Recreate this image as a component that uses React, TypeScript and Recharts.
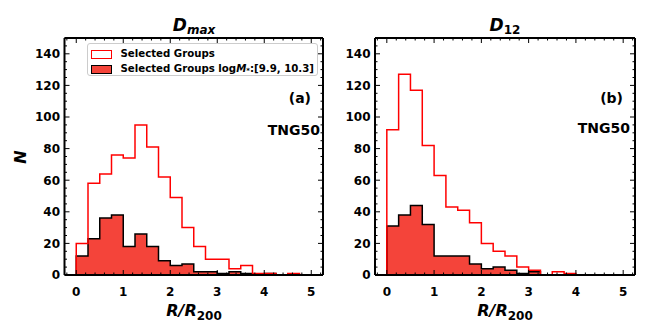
import { ComposedChart, Line, Area, XAxis, YAxis } from 'recharts';

const BIN_WIDTH = 0.25;

// panel (a) D_max
const dmaxAll = [20, 58, 64, 76, 74, 95, 81, 62, 49, 30, 18, 10, 10, 4, 6, 1, 1, 0, 1];
const dmaxSel = [12, 23, 36, 38, 18, 26, 18, 9, 6, 7, 2, 2, 1, 2, 1, 0, 1, 0, 0];

// panel (b) D_12
const d12All = [92, 127, 117, 82, 63, 43, 41, 33, 20, 15, 12, 5, 3, 0, 2, 1];
const d12Sel = [31, 38, 44, 32, 12, 12, 12, 7, 4, 5, 3, 1, 2, 0, 0, 0];

const X_TICKS = Array.from({ length: 28 }, (_, i) => Math.round((i - 1) * 2) / 10); // -0.2 .. 5.2
const Y_TICKS = Array.from({ length: 31 }, (_, i) => i * 5);

const FONT = '"DejaVu Sans", sans-serif';
const FILL = '#f4443a';

function buildRows(all: number[], sel: number[]) {
  const rows = [{ x: 0, all: 0, sel: 0 }];
  all.forEach((v, i) => rows.push({ x: i * BIN_WIDTH, all: v, sel: sel[i] }));
  rows.push({ x: all.length * BIN_WIDTH, all: 0, sel: 0 });
  return rows;
}

const isInt = (v: number) => Math.abs(v - Math.round(v)) < 1e-6;

const BottomTick = (p: any) => {
  const v = p.payload.value;
  const major = isInt(v);
  return (
    <g>
      <line x1={p.x} x2={p.x} y1={p.y} y2={p.y - (major ? 5 : 2.5)} stroke="#000" strokeWidth={1} />
      {major && v >= 0 && v <= 5 && (
        <text x={p.x} y={p.y + 20.5} textAnchor="middle" fontFamily={FONT} fontWeight="bold" fontSize={12} fill="#000">
          {v}
        </text>
      )}
    </g>
  );
};

const TopTick = (p: any) => {
  const major = isInt(p.payload.value);
  return <line x1={p.x} x2={p.x} y1={p.y} y2={p.y + (major ? 5 : 2.5)} stroke="#000" strokeWidth={1} />;
};

const LeftTick = (p: any) => {
  const v = p.payload.value;
  const major = v % 20 === 0;
  return (
    <g>
      <line x1={p.x} x2={p.x + (major ? 5 : 2.5)} y1={p.y} y2={p.y} stroke="#000" strokeWidth={1} />
      {major && v <= 140 && (
        <text x={p.x - 4.5} y={p.y + 4.4} textAnchor="end" fontFamily={FONT} fontWeight="bold" fontSize={12} fill="#000">
          {v}
        </text>
      )}
    </g>
  );
};

const RightTick = (p: any) => {
  const major = p.payload.value % 20 === 0;
  return <line x1={p.x} x2={p.x - (major ? 5 : 2.5)} y1={p.y} y2={p.y} stroke="#000" strokeWidth={1} />;
};

interface PanelProps {
  all: number[];
  sel: number[];
  left: number;
  yAxisWidth: number;
  rightMargin: number;
}

function Panel({ all, sel, left, yAxisWidth, rightMargin }: PanelProps) {
  const rows = buildRows(all, sel);
  const axisLine = { stroke: '#000', strokeWidth: 2 };
  return (
    <div style={{ position: 'absolute', left, top: 0 }}>
      <ComposedChart width={324} height={324} data={rows} margin={{ top: 37, right: rightMargin, bottom: 0, left: 0 }}>
        <XAxis dataKey="x" type="number" domain={[-0.25, 5.25]} allowDataOverflow ticks={X_TICKS} interval={0}
          height={49} tickSize={0} tickMargin={0} tickLine={false} axisLine={axisLine} tick={BottomTick} />
        <XAxis xAxisId="top" orientation="top" dataKey="x" type="number" domain={[-0.25, 5.25]} allowDataOverflow
          ticks={X_TICKS} interval={0} height={1} tickSize={0} tickMargin={0} tickLine={false} axisLine={axisLine} tick={TopTick} />
        <YAxis type="number" domain={[0, 150]} allowDataOverflow ticks={Y_TICKS} interval={0} width={yAxisWidth}
          tickSize={0} tickMargin={0} tickLine={false} axisLine={axisLine} tick={LeftTick} />
        <YAxis yAxisId="right" orientation="right" type="number" domain={[0, 150]} allowDataOverflow ticks={Y_TICKS}
          interval={0} width={1} tickSize={0} tickMargin={0} tickLine={false} axisLine={axisLine} tick={RightTick} />
        <Line xAxisId="top" yAxisId="right" dataKey="all" type="stepAfter" stroke="#ff0000" strokeWidth={1.5} dot={false}
          isAnimationActive={false} />
        <Area dataKey="sel" type="stepAfter" stroke="#000" strokeWidth={1.5} fill={FILL} fillOpacity={1} dot={false}
          isAnimationActive={false} />
      </ComposedChart>
    </div>
  );
}

const txt: React.CSSProperties = {
  position: 'absolute',
  fontFamily: FONT,
  fontWeight: 'bold',
  color: '#000',
  whiteSpace: 'nowrap',
  lineHeight: 1,
};

function Handle({ filled }: { filled: boolean }) {
  return (
    <span style={{
      display: 'inline-block', width: 19, height: 7, marginRight: 9, verticalAlign: 'middle',
      border: `1.3px solid ${filled ? '#000' : '#ff0000'}`, background: filled ? FILL : '#fff',
    }} />
  );
}

export default function App() {
  return (
    <div style={{ position: 'absolute', left: 0, top: 0, width: 648, height: 324, background: '#fff', overflow: 'hidden' }}>
      <Panel all={dmaxAll} sel={dmaxSel} left={0} yAxisWidth={64.5} rightMargin={0} />
      <Panel all={d12All} sel={d12Sel} left={324} yAxisWidth={51} rightMargin={12} />

      {/* titles */}
      <div style={{ ...txt, left: 194, top: 17, transform: 'translateX(-50%)', fontSize: 17, fontStyle: 'italic' }}>
        D<sub style={{ fontSize: 12, verticalAlign: -3 }}>max</sub>
      </div>
      <div style={{ ...txt, left: 505, top: 17, transform: 'translateX(-50%)', fontSize: 17 }}>
        <i>D</i><sub style={{ fontSize: 12, verticalAlign: -3 }}>12</sub>
      </div>

      {/* axis labels */}
      <div style={{ ...txt, left: 21, top: 157, transform: 'translate(-50%, -50%) rotate(-90deg)', fontSize: 16, fontStyle: 'italic' }}>
        N
      </div>
      {[194, 505].map((cx) => (
        <div key={cx} style={{ ...txt, left: cx, top: 303, transform: 'translateX(-50%)', fontSize: 16, fontStyle: 'italic' }}>
          R/R<sub style={{ fontSize: 12, fontStyle: 'normal', verticalAlign: -4 }}>200</sub>
        </div>
      ))}

      {/* annotations */}
      <div style={{ ...txt, left: 311, top: 91, transform: 'translateX(-100%)', fontSize: 14 }}>(a)</div>
      <div style={{ ...txt, left: 320, top: 123, transform: 'translateX(-100%)', fontSize: 14 }}>TNG50</div>
      <div style={{ ...txt, left: 623, top: 91, transform: 'translateX(-100%)', fontSize: 14 }}>(b)</div>
      <div style={{ ...txt, left: 630, top: 121, transform: 'translateX(-100%)', fontSize: 14 }}>TNG50</div>

      {/* legend */}
      <div style={{
        position: 'absolute', left: 86.5, top: 43, width: 231, height: 33, boxSizing: 'border-box',
        border: '1px solid #ccc', borderRadius: 3, background: 'rgba(255,255,255,0.8)', padding: '2px 0 0 3px',
        fontFamily: FONT, fontWeight: 'bold', fontSize: 10.2, lineHeight: '15px', whiteSpace: 'nowrap',
      }}>
        <div><Handle filled={false} />Selected Groups</div>
        <div>
          <Handle filled />Selected Groups log<i>M</i><sub style={{ fontSize: 7, verticalAlign: -1 }}>*</sub>:[9.9, 10.3]
        </div>
      </div>
    </div>
  );
}
